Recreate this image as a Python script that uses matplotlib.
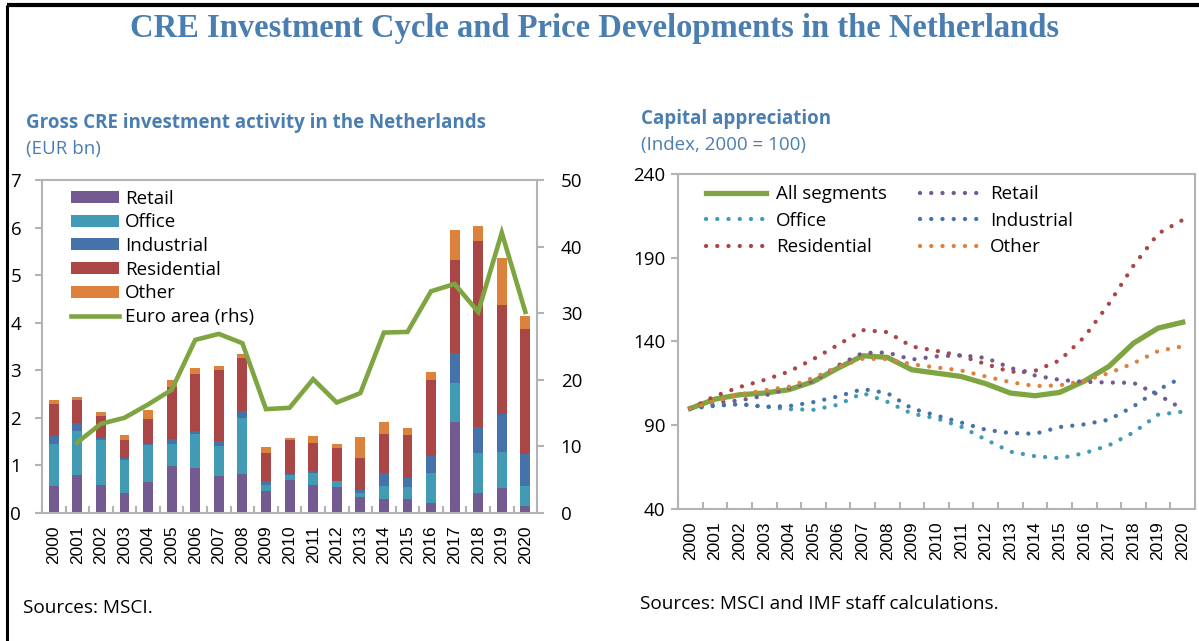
import numpy as np
import matplotlib
matplotlib.use("Agg")
import matplotlib.pyplot as plt
from matplotlib.ticker import FixedLocator, NullFormatter

# ---- data ----
years = [str(y) for y in range(2000, 2021)]

# Gross CRE investment (EUR bn), stacked
retail = [0.57, 0.79, 0.58, 0.41, 0.66, 0.98, 0.94, 0.78, 0.83, 0.46, 0.69,
          0.59, 0.55, 0.33, 0.29, 0.29, 0.22, 1.92, 0.43, 0.52, 0.14]
office = [0.89, 0.94, 0.96, 0.71, 0.77, 0.48, 0.72, 0.63, 1.17, 0.13, 0.11,
          0.26, 0.12, 0.10, 0.28, 0.26, 0.63, 0.82, 0.83, 0.77, 0.42]
industrial = [0.15, 0.16, 0.03, 0.04, 0.02, 0.10, 0.07, 0.11, 0.15, 0.08, 0.02,
              0.04, 0.00, 0.05, 0.28, 0.18, 0.35, 0.63, 0.55, 0.79, 0.69]
residential = [0.69, 0.48, 0.46, 0.37, 0.52, 1.10, 1.20, 1.49, 1.10, 0.60, 0.71,
               0.59, 0.70, 0.67, 0.82, 0.92, 1.59, 1.96, 3.92, 2.30, 2.61]
other = [0.08, 0.06, 0.10, 0.10, 0.20, 0.13, 0.12, 0.08, 0.10, 0.12, 0.04,
         0.14, 0.09, 0.45, 0.25, 0.14, 0.18, 0.63, 0.30, 0.98, 0.29]
# Euro area (rhs), from 2001
euro_area = [np.nan, 10.6, 13.4, 14.3, 16.3, 18.5, 26.0, 26.9, 25.5, 15.6, 15.8,
             20.1, 16.6, 18.0, 27.1, 27.2, 33.3, 34.4, 30.2, 42.1, 30.2]

# Capital appreciation (Index, 2000 = 100)
cap_all = [100, 105.6, 108.2, 109.2, 111.2, 116.1, 124.1, 131.5, 130.5, 123.1, 121.1,
           119.1, 114.8, 109.2, 107.6, 109.6, 116.3, 125.1, 139.0, 148.0, 151.5]
cap_retail = [100, 103.5, 104.8, 107.6, 112.0, 116.5, 125.7, 133.2, 133.4, 129.2, 131.1,
              131.8, 130.2, 124.3, 119.7, 117.1, 115.9, 115.5, 115.3, 108.2, 99.6]
cap_office = [100, 101.8, 102.6, 101.2, 99.6, 99.2, 102.2, 109.2, 104.0, 96.9, 94.1,
              89.1, 81.4, 74.2, 71.5, 70.3, 73.3, 78.0, 85.7, 96.3, 98.1]
cap_industrial = [100, 101.6, 102.6, 101.0, 101.4, 103.8, 107.2, 111.6, 109.2, 100.0, 95.8,
                  91.6, 87.3, 85.3, 84.9, 88.9, 90.5, 93.3, 101.2, 111.2, 118.7]
cap_residential = [100, 107.4, 112.8, 117.0, 122.0, 129.5, 138.0, 146.8, 145.6, 137.0, 134.4,
                   131.4, 126.5, 121.9, 122.5, 128.7, 142.6, 162.5, 185.3, 204.4, 212.6]
cap_other = [100, 104.4, 108.4, 110.8, 113.0, 118.3, 124.7, 129.7, 129.5, 126.4, 124.5,
             122.7, 119.1, 115.7, 113.4, 113.8, 116.5, 121.1, 127.0, 134.3, 137.1]

# ---- styles ----
c_retail = "#735a91"
c_office = "#429bb4"
c_industrial = "#4572a8"
c_residential = "#aa4646"
c_other = "#dc823c"
c_green = "#7ea542"
c_head = "#4a7eb0"
c_spine = "#b3b3b3"
sans = ["Open Sans", "DejaVu Sans"]
fs = 13.5

plt.rcParams['font.family'] = sans

fig = plt.figure(figsize=(11.99, 6.41), dpi=100)

# frame lines (top and left)
fig.add_artist(plt.Line2D([0.0055, 1.0], [0.9915, 0.9915], color="black", lw=3.0,
                          transform=fig.transFigure, solid_capstyle="butt"))
fig.add_artist(plt.Line2D([0.0055, 0.0055], [0.0, 0.9915], color="black", lw=2.2,
                          transform=fig.transFigure, solid_capstyle="butt"))

fig.text(0.4955, 0.956, "CRE Investment Cycle and Price Developments in the Netherlands",
         ha="center", va="center", fontsize=23.5, fontweight="bold",
         family=["Liberation Serif", "DejaVu Serif"], color=c_head)

fig.text(0.022, 0.808, "Gross CRE investment activity in the Netherlands", ha="left",
         va="center", fontsize=fs, fontweight="bold", color=c_head)
fig.text(0.022, 0.767, "(EUR bn)", ha="left", va="center", fontsize=fs, color=c_head)
fig.text(0.535, 0.815, "Capital appreciation", ha="left", va="center", fontsize=fs,
         fontweight="bold", color=c_head)
fig.text(0.535, 0.774, "(Index, 2000 = 100)", ha="left", va="center", fontsize=fs,
         color=c_head)

fig.text(0.019, 0.051, "Sources: MSCI.", ha="left", va="center", fontsize=13.7)
fig.text(0.534, 0.057, "Sources: MSCI and IMF staff calculations.", ha="left",
         va="center", fontsize=13.7)


def style_axes(ax):
    for s in ax.spines.values():
        s.set_color(c_spine)
        s.set_linewidth(1.5)
    ax.set_xlim(-0.5, 20.5)
    ax.xaxis.set_major_locator(FixedLocator(range(len(years))))
    ax.set_xticklabels(years, rotation=90, family=["Liberation Sans", "DejaVu Sans"],
                       fontsize=12.5)
    ax.xaxis.set_minor_locator(FixedLocator(np.arange(-0.5, 20.6, 1.0)))
    ax.xaxis.set_minor_formatter(NullFormatter())
    ax.tick_params(axis="x", which="major", length=0, pad=9)
    ax.tick_params(axis="x", which="minor", direction="in", length=5, width=1.5,
                   color=c_spine)
    ax.tick_params(axis="y", direction="out", length=5, width=1.5, color=c_spine,
                   labelsize=13.5)


# ---- left panel ----
ax1 = fig.add_axes([0.035, 0.1997, 0.413, 0.5193])
x = np.arange(len(years))
w = 0.42
bottom = np.zeros(len(years))
for vals, col, lab in [(retail, c_retail, "Retail"), (office, c_office, "Office"),
                       (industrial, c_industrial, "Industrial"),
                       (residential, c_residential, "Residential"),
                       (other, c_other, "Other")]:
    ax1.bar(x, vals, w, bottom=bottom, color=col, label=lab, linewidth=0, zorder=2)
    bottom += np.array(vals)
ax1.set_ylim(0, 7)
ax1.set_yticks(range(0, 8))
style_axes(ax1)
ax1.tick_params(axis="y", pad=10)

ax1r = ax1.twinx()
ax1r.plot(x, euro_area, color=c_green, lw=3.3, label="Euro area (rhs)", zorder=3,
          solid_joinstyle="miter")
ax1r.set_ylim(0, 50)
ax1r.set_yticks(range(0, 51, 10))
for s in ax1r.spines.values():
    s.set_visible(False)
ax1r.tick_params(axis="y", direction="out", length=5, width=1.5, color=c_spine,
                 labelsize=13.5, pad=12)

h1, l1 = ax1.get_legend_handles_labels()
h2, l2 = ax1r.get_legend_handles_labels()
ax1r.legend(h1 + h2, l1 + l2, loc="upper left", bbox_to_anchor=(0.035, 1.005),
            frameon=False, fontsize=13.5, handlelength=2.6, handleheight=0.6,
            labelspacing=0.3, handletextpad=0.3, borderaxespad=0.2)

# ---- right panel ----
ax2 = fig.add_axes([0.5655, 0.206, 0.4312, 0.5225])
dot = (0, (0.01, 2.6))
ax2.plot(x, cap_all, color=c_green, lw=3.8, label="All segments", zorder=2)
ax2.plot(x, cap_office, color=c_office, lw=3.1, ls=dot, dash_capstyle="round",
         label="Office", zorder=3)
ax2.plot(x, cap_residential, color=c_residential, lw=3.1, ls=dot,
         dash_capstyle="round", label="Residential", zorder=3)
ax2.plot(x, cap_retail, color=c_retail, lw=3.1, ls=dot, dash_capstyle="round",
         label="Retail", zorder=3)
ax2.plot(x, cap_industrial, color=c_industrial, lw=3.1, ls=dot,
         dash_capstyle="round", label="Industrial", zorder=3)
ax2.plot(x, cap_other, color=c_other, lw=3.1, ls=dot, dash_capstyle="round",
         label="Other", zorder=3)
ax2.set_ylim(40, 240)
ax2.set_yticks(range(40, 241, 50))
style_axes(ax2)
ax2.tick_params(axis="y", pad=4)
ax2.legend(loc="upper left", bbox_to_anchor=(0.033, 1.0), ncol=2, frameon=False,
           fontsize=13.5, handlelength=3.2, labelspacing=0.45, handletextpad=0.5,
           columnspacing=1.8, borderaxespad=0.2)

fig.savefig("out.png", dpi=100)
